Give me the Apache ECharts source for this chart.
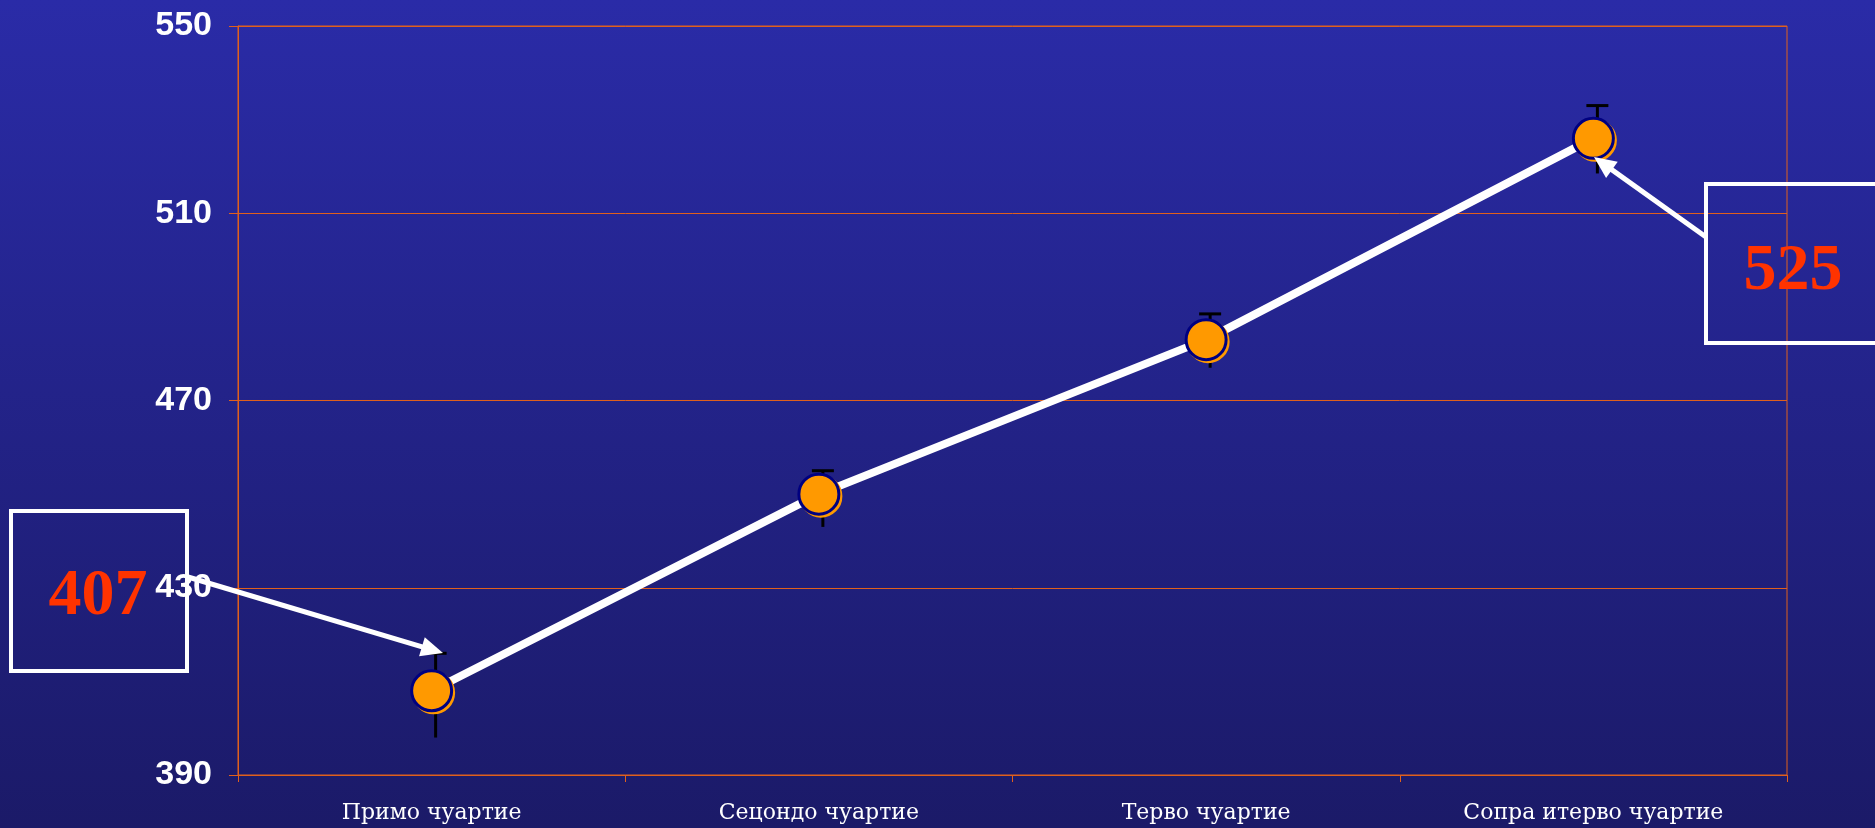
<!DOCTYPE html>
<html><head><meta charset="utf-8">
<script src="https://cdn.jsdelivr.net/npm/echarts/dist/echarts.min.js"></script>
<style>html,body{margin:0;padding:0;background:#222;} #chart{width:1875px;height:828px;}</style>
</head><body><div id="chart"></div>
<script>
// ---- data ----
const categories = ['Примо чуартие', 'Сецондо чуартие', 'Терво чуартие', 'Сопра итерво чуартие'];
const scores = [408, 450, 483, 526];
const errLow = [398, 443, 477, 518.5];
const errHigh = [416, 455, 488.5, 533];
const yMin = 390, yMax = 550, yStep = 40;
const calloutFirst = '407';
const calloutLast = '525';

const ORANGE = '#E0601C';
const chart = echarts.init(document.getElementById('chart'), null, {renderer: 'canvas'});

function arrow(x1, y1, x2, y2) {
  const dx = x2 - x1, dy = y2 - y1, L = Math.hypot(dx, dy);
  const ux = dx / L, uy = dy / L, px = -uy, py = ux;
  const hl = 22, hw = 10;
  const bx = x2 - ux * hl, by = y2 - uy * hl;
  return [
    {type: 'line', z: 100, shape: {x1: x1, y1: y1, x2: bx + ux * 2, y2: by + uy * 2},
      style: {stroke: '#fff', lineWidth: 5}},
    {type: 'polygon', z: 100, shape: {points: [[x2, y2], [bx + px * hw, by + py * hw], [bx - px * hw, by - py * hw]]},
      style: {fill: '#fff'}}
  ];
}

const option = {
  animation: false,
  backgroundColor: {type: 'linear', x: 0, y: 0, x2: 0, y2: 1,
    colorStops: [{offset: 0, color: '#2A2BA7'}, {offset: 1, color: '#1B1A68'}]},
  grid: {left: 238, right: 88, top: 26, bottom: 53, show: true, borderColor: ORANGE, borderWidth: 1},
  xAxis: {
    type: 'category', data: categories, boundaryGap: true,
    axisLine: {lineStyle: {color: ORANGE, width: 1}},
    axisTick: {show: true, length: 7, lineStyle: {color: ORANGE}},
    axisLabel: {color: '#fff', fontFamily: 'DejaVu Serif', fontSize: 22, margin: 27}
  },
  yAxis: {
    type: 'value', min: yMin, max: yMax, interval: yStep,
    axisLine: {show: true, lineStyle: {color: ORANGE, width: 1}},
    axisTick: {show: true, length: 9, lineStyle: {color: ORANGE}},
    splitLine: {show: true, lineStyle: {color: ORANGE, width: 1}},
    axisLabel: {color: '#fff', fontFamily: 'Liberation Sans', fontWeight: 'bold', fontSize: 34, margin: 26}
  },
  series: [
    {
      type: 'custom', z: 1, silent: true,
      data: categories.map((c, i) => [i, errLow[i], errHigh[i]]),
      encode: {x: 0, y: [1, 2]},
      renderItem: function (params, api) {
        const lo = api.coord([api.value(0), api.value(1)]);
        const hi = api.coord([api.value(0), api.value(2)]);
        const x = lo[0] + 4;
        return {type: 'group', children: [
          {type: 'line', shape: {x1: x, y1: lo[1], x2: x, y2: hi[1]}, style: {stroke: '#000', lineWidth: 3}},
          {type: 'line', shape: {x1: x - 11, y1: hi[1], x2: x + 11, y2: hi[1]}, style: {stroke: '#000', lineWidth: 3}}
        ]};
      }
    },
    {
      type: 'line', z: 3, data: scores, silent: true,
      lineStyle: {color: '#fff', width: 8},
      symbol: 'circle', symbolSize: 40,
      itemStyle: {color: '#FF9900', borderColor: '#000080', borderWidth: 3,
        shadowColor: '#FF9900', shadowOffsetX: 2, shadowOffsetY: 2, shadowBlur: 0},
      emphasis: {disabled: true}
    }
  ],
  graphic: [
    {type: 'rect', z: 99, shape: {x: 11, y: 511, width: 176, height: 160},
      style: {fill: 'transparent', stroke: '#fff', lineWidth: 4}},
    {type: 'text', z: 101, x: 98, y: 597,
      style: {text: calloutFirst, fill: '#FF3300', font: 'bold 66px "Liberation Serif"', textAlign: 'center', textVerticalAlign: 'middle'}},
    {type: 'rect', z: 99, shape: {x: 1706, y: 184, width: 220, height: 159},
      style: {fill: 'transparent', stroke: '#fff', lineWidth: 4}},
    {type: 'text', z: 101, x: 1793, y: 272,
      style: {text: calloutLast, fill: '#FF3300', font: 'bold 66px "Liberation Serif"', textAlign: 'center', textVerticalAlign: 'middle'}}
  ].concat(arrow(188, 577, 443, 653)).concat(arrow(1706, 237, 1594, 157))
};
chart.setOption(option);
</script>
</body></html>
